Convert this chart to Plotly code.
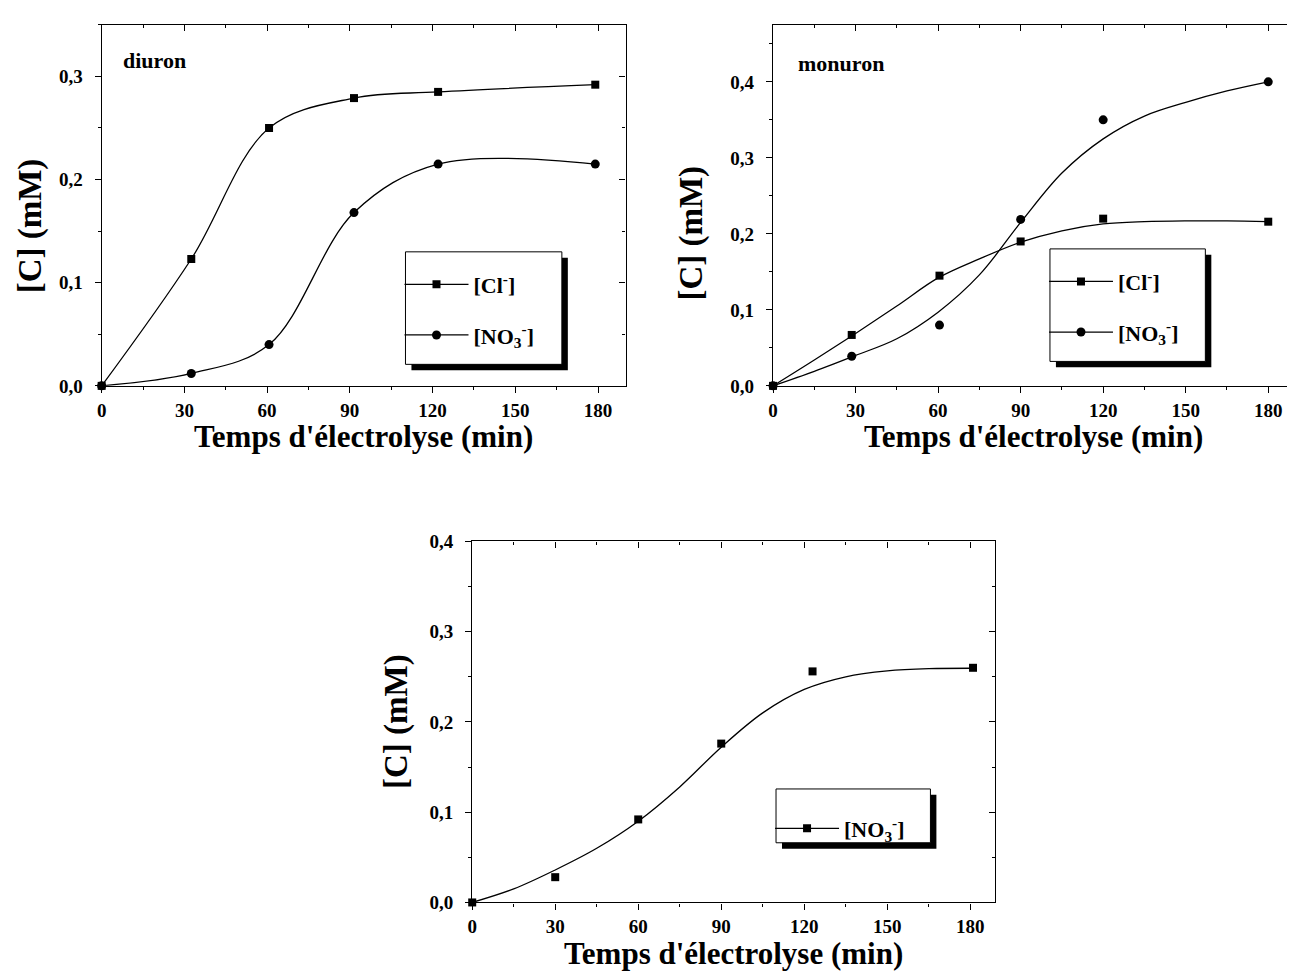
import plotly.graph_objects as go

# page body margin offsets the figure by 8 px; work in reference-page pixels
OFF = 8
W, H = 1295 - OFF, 979 - OFF

# ---------------- data ----------------
# Panel 1 : diuron
diuron_t = [0, 32.5, 60.7, 91.5, 122, 179]
diuron_cl = [0.0, 0.123, 0.250, 0.279, 0.285, 0.292]
diuron_no3 = [0.0, 0.012, 0.040, 0.168, 0.215, 0.215]

# Panel 2 : monuron (points + fitted curves)
monuron_t = [0, 28.6, 60.5, 90, 120, 180]
monuron_cl = [0.0, 0.067, 0.145, 0.190, 0.220, 0.216]
monuron_no3 = [0.0, 0.039, 0.080, 0.219, 0.350, 0.400]
fit_t = [0, 15, 30, 45, 60, 75, 90, 105, 120, 135, 150, 165, 180]
monuron_cl_fit = [0.0, 0.034, 0.069, 0.105, 0.142, 0.167, 0.189, 0.204, 0.213, 0.216, 0.217, 0.217, 0.216]
monuron_no3_fit = [0.0, 0.019, 0.040, 0.062, 0.097, 0.146, 0.215, 0.280, 0.325, 0.355, 0.373, 0.388, 0.400]

# Panel 3 : nitrate only
p3_t = [0, 30, 60, 90, 123, 181]
p3_no3 = [0.0, 0.028, 0.092, 0.176, 0.256, 0.260]
p3_fit = [0.0, 0.015, 0.036, 0.060, 0.090, 0.128, 0.172, 0.210, 0.236, 0.250, 0.2565, 0.259, 0.2595]

# tick labels
x_ticks = [0, 30, 60, 90, 120, 150, 180]
x_ticktext = ["0", "30", "60", "90", "120", "150", "180"]
x_minor = [15, 45, 75, 105, 135, 165]
y_ticks = [0.0, 0.1, 0.2, 0.3, 0.4]
y_ticktext = ["0,0", "0,1", "0,2", "0,3", "0,4"]
y_minor = [0.05, 0.15, 0.25, 0.35, 0.45]

x_title = "Temps d'électrolyse (min)"
y_title = "[C] (mM)"
lbl_cl = "[Cl<sup>-</sup>]"
lbl_no3 = "[NO<sub>3</sub><sup>-</sup>]"

FONT = "Liberation Serif, Times New Roman, serif"


def px(x):
    return (x - OFF) / W


def py(y):
    return 1 - (y - OFF) / H


fig = go.Figure()

LW = 1.3
SQ = dict(symbol="square", size=8, color="black")
CI = dict(symbol="circle", size=9, color="black")
LINE = dict(color="black", width=LW, shape="spline")

# ---- panel 1 ----
fig.add_trace(go.Scatter(x=diuron_t, y=diuron_cl, mode="lines+markers", marker=SQ, line=LINE,
                         xaxis="x", yaxis="y", showlegend=False, cliponaxis=False))
fig.add_trace(go.Scatter(x=diuron_t, y=diuron_no3, mode="lines+markers", marker=CI, line=LINE,
                         xaxis="x", yaxis="y", showlegend=False, cliponaxis=False))
# ---- panel 2 ----
fig.add_trace(go.Scatter(x=fit_t, y=monuron_cl_fit, mode="lines", line=LINE,
                         xaxis="x2", yaxis="y2", showlegend=False))
fig.add_trace(go.Scatter(x=fit_t, y=monuron_no3_fit, mode="lines", line=LINE,
                         xaxis="x2", yaxis="y2", showlegend=False))
fig.add_trace(go.Scatter(x=monuron_t, y=monuron_cl, mode="markers", marker=SQ,
                         xaxis="x2", yaxis="y2", showlegend=False, cliponaxis=False))
fig.add_trace(go.Scatter(x=monuron_t, y=monuron_no3, mode="markers", marker=CI,
                         xaxis="x2", yaxis="y2", showlegend=False, cliponaxis=False))
# ---- panel 3 ----
fig.add_trace(go.Scatter(x=fit_t, y=p3_fit, mode="lines", line=LINE,
                         xaxis="x3", yaxis="y3", showlegend=False))
fig.add_trace(go.Scatter(x=p3_t, y=p3_no3, mode="markers", marker=SQ,
                         xaxis="x3", yaxis="y3", showlegend=False, cliponaxis=False))

# transparent copies so that the mirrored (top / right) frame axes get drawn
for xs, ys, xa, ya in [(diuron_t, diuron_cl, "x4", "y4"),
                       (monuron_t, monuron_cl, "x5", "y5"),
                       (p3_t, p3_no3, "x6", "y6")]:
    fig.add_trace(go.Scatter(x=xs, y=ys, mode="markers", marker=dict(opacity=0, size=1),
                             hoverinfo="skip", xaxis=xa, yaxis=ya, showlegend=False))

# ---- legend-only entries ----
for lg, name, mk, xa, ya in [("legend", lbl_cl, SQ, "x", "y"),
                             ("legend", lbl_no3, CI, "x", "y"),
                             ("legend2", lbl_cl, SQ, "x2", "y2"),
                             ("legend2", lbl_no3, CI, "x2", "y2"),
                             ("legend3", lbl_no3, SQ, "x3", "y3")]:
    fig.add_trace(go.Scatter(x=[None], y=[None], mode="lines+markers", name=name,
                             marker=mk, line=dict(color="black", width=LW),
                             xaxis=xa, yaxis=ya, legend=lg, legendgroup=lg + name,
                             showlegend=True))

tickfont = dict(family=FONT, size=19, color="black", weight="bold")


def axes(xdom, ydom, xr, yr, ymaxtick):
    yt = [v for v in y_ticks if v <= ymaxtick + 1e-9]
    ytt = y_ticktext[:len(yt)]
    ym = [v for v in y_minor if v <= yr[1] + 1e-9]
    common = dict(showgrid=False, zeroline=False, showline=True, linecolor="black",
                  linewidth=LW, tickcolor="black", tickwidth=LW, ticklen=6)
    xb = dict(common, domain=[px(xdom[0]), px(xdom[1])], range=xr, tickmode="array",
              tickvals=x_ticks, ticktext=x_ticktext, ticks="outside", tickfont=tickfont,
              ticklabelstandoff=1,
              minor=dict(tickvals=x_minor, ticks="outside", ticklen=3, tickcolor="black", tickwidth=LW))
    yl = dict(common, domain=[py(ydom[1]), py(ydom[0])], range=yr, tickmode="array",
              tickvals=yt, ticktext=ytt, ticks="outside", tickfont=tickfont,
              ticklabelstandoff=8,
              minor=dict(tickvals=ym, ticks="outside", ticklen=3, tickcolor="black", tickwidth=LW))
    xt = dict(common, range=xr, tickmode="array", tickvals=x_ticks, ticks="inside",
              showticklabels=False, side="top",
              minor=dict(tickvals=x_minor, ticks="inside", ticklen=3, tickcolor="black", tickwidth=LW))
    yrt = dict(common, range=yr, tickmode="array", tickvals=yt, ticks="inside",
               showticklabels=False, side="right",
               minor=dict(tickvals=ym, ticks="inside", ticklen=3, tickcolor="black", tickwidth=LW))
    return xb, yl, xt, yrt


P1 = ((97, 623), (15, 384), [0, 190], [0, 0.35], 0.3)
P2 = ((771, 1293), (15, 384), [0, 189], [0, 0.475], 0.4)
P3 = ((469, 994), (543, 912), [0, 189], [0, 0.4], 0.4)

layout_axes = {}
for i, P in enumerate([P1, P2, P3], start=1):
    xb, yl, xt, yrt = axes(*P)
    s = "" if i == 1 else str(i)
    xb["anchor"] = "y" + s
    yl["anchor"] = "x" + s
    layout_axes["xaxis" + s] = xb
    layout_axes["yaxis" + s] = yl
    j = str(i + 3)
    xt.update(overlaying="x" + s, anchor="y" + s)
    yrt.update(overlaying="y" + s, anchor="x" + s)
    layout_axes["xaxis" + j] = xt
    layout_axes["yaxis" + j] = yrt

# ---- legend boxes (white box + black shadow) ----
shapes = []
boxes = [(402, 559, 247, 362), (1049, 1205, 244, 359), (774, 929, 796, 851)]
for (x0, x1, y0, y1) in boxes:
    shapes.append(dict(type="rect", xref="paper", yref="paper", layer="above",
                       x0=px(x0 + 6), x1=px(x1 + 6), y0=py(y1 + 6), y1=py(y0 + 6),
                       fillcolor="black", line=dict(width=0)))
    shapes.append(dict(type="rect", xref="paper", yref="paper", layer="above",
                       x0=px(x0), x1=px(x1), y0=py(y1), y1=py(y0),
                       fillcolor="white", line=dict(color="black", width=1)))

legfont = dict(family=FONT, size=22, color="black", weight="bold")
legcommon = dict(bgcolor="rgba(0,0,0,0)", borderwidth=0, font=legfont,
                 xanchor="left", yanchor="top", tracegroupgap=19, itemwidth=64)

# ---- texts ----
titlefont = dict(family=FONT, size=31, color="black", weight="bold")
annots = []
for (xc, yc) in [(360, 436), (1032, 436), (731, 964)]:
    annots.append(dict(text=x_title, xref="paper", yref="paper", x=px(xc), y=py(yc),
                       xanchor="center", yanchor="middle", showarrow=False, font=titlefont))
for (xc, yc) in [(25, 220), (689, 228), (393, 727)]:
    annots.append(dict(text=y_title, xref="paper", yref="paper", x=px(xc), y=py(yc),
                       xanchor="center", yanchor="middle", showarrow=False, textangle=-90,
                       font=dict(family=FONT, size=33, color="black", weight="bold")))
labfont = dict(family=FONT, size=22, color="black", weight="bold")
annots.append(dict(text="diuron", xref="paper", yref="paper", x=px(116), y=py(51),
                   xanchor="left", yanchor="middle", showarrow=False, font=labfont))
annots.append(dict(text="monuron", xref="paper", yref="paper", x=px(794), y=py(55),
                   xanchor="left", yanchor="middle", showarrow=False, font=labfont))

fig.update_layout(
    width=W, height=H, autosize=False,
    margin=dict(l=0, r=0, t=0, b=0),
    paper_bgcolor="white", plot_bgcolor="white",
    shapes=shapes, annotations=annots,
    legend=dict(legcommon, x=px(396), y=py(259)),
    legend2=dict(legcommon, x=px(1043), y=py(256)),
    legend3=dict(legcommon, x=px(768), y=py(815)),
    **layout_axes,
)

fig.write_html("out.html")
